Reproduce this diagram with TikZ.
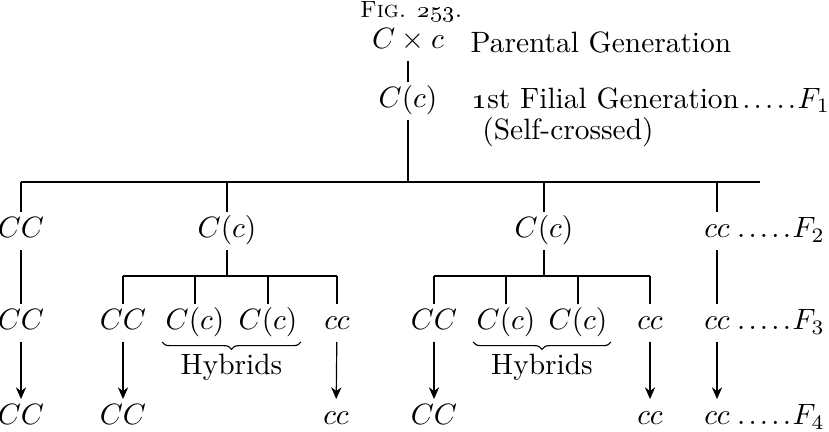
\documentclass[tikz,border=0pt]{standalone}
\usepackage{amsmath}
\usetikzlibrary{arrows.meta,positioning,decorations.pathreplacing}

\newcommand\fdots{\mkern2mu.\mkern2mu.\mkern2mu.\mkern2mu.\mkern2mu.\mkern1mu}

\begin{document}
\begin{tikzpicture}[
  x=0.34pt, y=-0.34pt,
  geno/.style={inner xsep=1pt, inner ysep=1.5pt, text height=7pt, text depth=2.5pt},
  gen/.style={anchor=base west, inner sep=0pt},
  hyb/.style={decorate, decoration={brace, mirror, amplitude=2.5pt}},
  >={Stealth[length=4pt,width=3.5pt]}
]
  \useasboundingbox (0,0) rectangle (829,431);

  % Parents and first filial generation
  \node[font=\footnotesize] (fig) at (411,12) {\textsc{Fig.} \oldstylenums{253}.};
  \node[geno] (p) at (408,42) {$C \times c$};
  \node[geno] (f1) at (408,101) {$C(c)$};
  \draw (p) -- (f1);
  \node[anchor=west, inner sep=0pt] (ptxt) at (470,42) {Parental Generation};
  \node[anchor=west, inner sep=0pt] (ftxt) at (472,100)
    {\oldstylenums{1}st Filial Generation$\fdots F_1$};
  \node[inner sep=0pt] (self) at (568,132) {(Self-crossed)};

  % Second generation
  \coordinate (barL) at (21,182);
  \coordinate (barR) at (760,182);
  \draw (barL) -- (barR);
  \draw (f1) -- (f1 |- barL);
  \node[geno] (a2) at (21,231)  {$CC$};
  \node[geno] (b2) at (227,231) {$C(c)$};
  \node[geno] (c2) at (544,231) {$C(c)$};
  \node[geno] (d2) at (717,231) {$cc$};
  \node[gen] at (d2.base east) {$\fdots F_2$};
  \foreach \n in {a2,b2,c2,d2}
    \draw (\n) -- (\n |- barL);

  % Third generation, left half
  \coordinate (lb) at (0,276);
  \node[geno] (b3a) at (123,323) {$CC$};
  \node[geno] (b3b) at (195,323) {$C(c)$};
  \node[geno] (b3c) at (268,323) {$C(c)$};
  \node[geno] (b3d) at (337,323) {$cc$};
  \draw (b2) -- (b2 |- lb);
  \draw (b3a |- lb) -- (b3d |- lb);
  \foreach \n in {b3a,b3b,b3c,b3d}
    \draw (\n) -- (\n |- lb);
  \draw[hyb] (b3b.south west) -- (b3c.south east)
    node[midway, below=4pt, inner sep=0pt] {Hybrids};

  % Third generation, right half
  \node[geno] (c3a) at (434,323) {$CC$};
  \node[geno] (c3b) at (506,323) {$C(c)$};
  \node[geno] (c3c) at (578,323) {$C(c)$};
  \node[geno] (c3d) at (650,323) {$cc$};
  \draw (c2) -- (c2 |- lb);
  \draw (c3a |- lb) -- (c3d |- lb);
  \foreach \n in {c3a,c3b,c3c,c3d}
    \draw (\n) -- (\n |- lb);
  \draw[hyb] (c3b.south west) -- (c3c.south east)
    node[midway, below=4pt, inner sep=0pt] {Hybrids};

  % Pure lines
  \node[geno] (a3) at (21,323) {$CC$};
  \node[geno] (d3) at (717,323) {$cc$};
  \node[gen] at (d3.base east) {$\fdots F_3$};
  \draw (a2) -- (a3);
  \draw (d2) -- (d3);

  % Fourth generation
  \node[geno] (a4)  at (21,418)  {$CC$};
  \node[geno] (b4a) at (123,418) {$CC$};
  \node[geno] (b4d) at (336,418) {$cc$};
  \node[geno] (c4a) at (434,418) {$CC$};
  \node[geno] (c4d) at (650,418) {$cc$};
  \node[geno] (d4)  at (717,418) {$cc$};
  \node[gen] at (d4.base east) {$\fdots F_4$};
  \draw[->] (a3) -- (a4);
  \draw[->] (b3a) -- (b4a);
  \draw[->] (b3d) -- (b4d);
  \draw[->] (c3a) -- (c4a);
  \draw[->] (c3d) -- (c4d);
  \draw[->] (d3) -- (d4);
\end{tikzpicture}
\end{document}
